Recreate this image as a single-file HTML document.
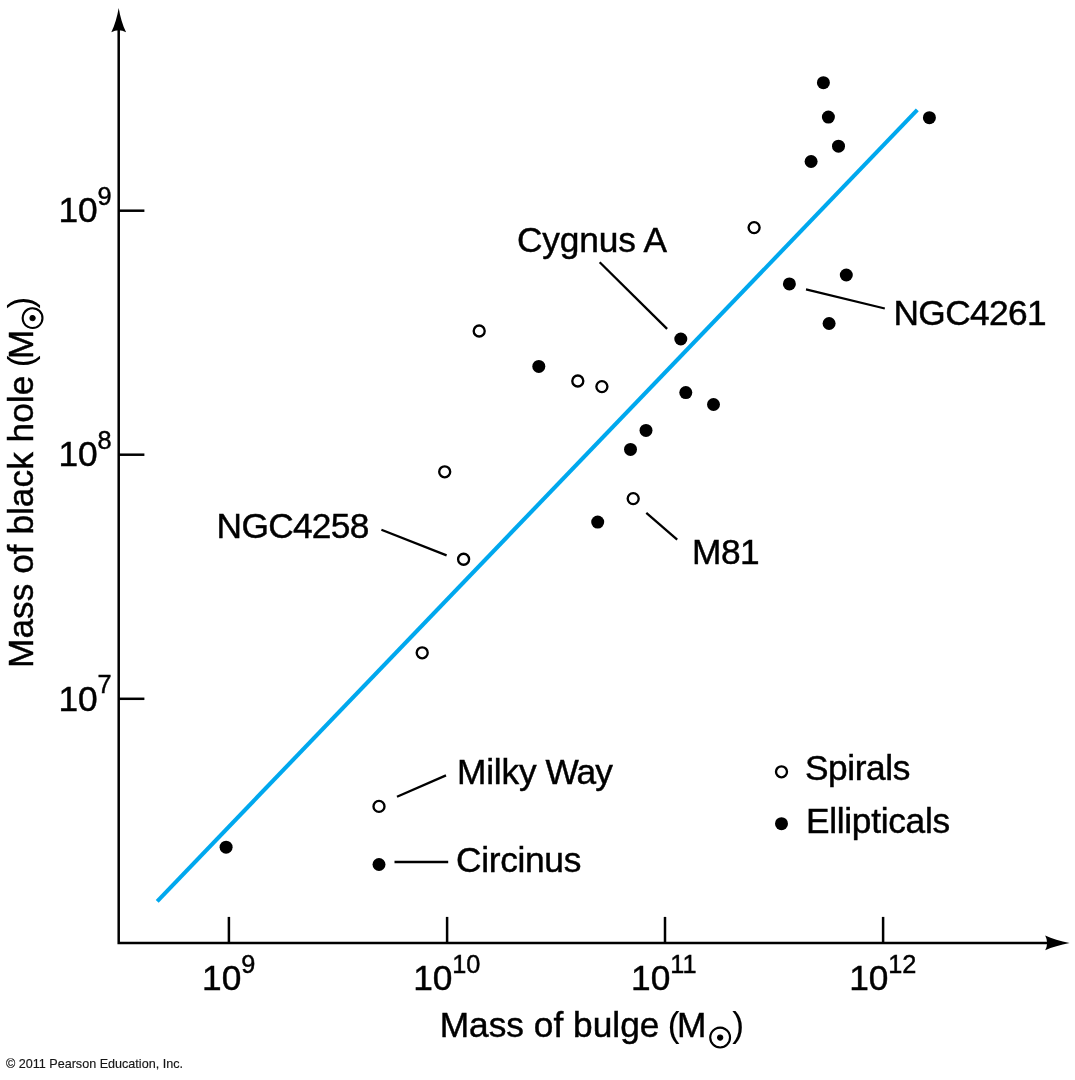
<!DOCTYPE html>
<html lang="en"><head><meta charset="utf-8"><title>Black hole mass vs bulge mass</title>
<style>
html,body{margin:0;padding:0;background:#fff;}
body{width:1075px;height:1080px;overflow:hidden;position:relative;}
svg{position:absolute;left:0;top:0;display:block;}
text{font-family:"Liberation Sans",sans-serif;fill:#000;stroke:#000;stroke-width:0.45px;}
.t{font-size:35.3px;}
.s{font-size:25.3px;}
.sun{font-family:"DejaVu Sans","Liberation Sans",sans-serif;font-size:28.5px;stroke-width:1.1px;letter-spacing:0;}
.p{stroke-width:0.1px;}
.c{font-size:12.6px;fill:#151515;stroke:#151515;stroke-width:0.15px;}
</style></head><body>
<svg width="1075" height="1080" viewBox="0 0 1075 1080">
<rect width="1075" height="1080" fill="#fff"/>
<g stroke="#000" stroke-width="2.5" fill="none" stroke-linecap="butt">
<path d="M118.7 30 V942.9 H1048"/>
<line x1="228.9" y1="916.9" x2="228.9" y2="943"/>
<line x1="447.1" y1="916.9" x2="447.1" y2="943"/>
<line x1="665.0" y1="916.9" x2="665.0" y2="943"/>
<line x1="883.1" y1="916.9" x2="883.1" y2="943"/>
<line x1="118.7" y1="210.7" x2="144.4" y2="210.7"/>
<line x1="118.7" y1="454.7" x2="144.4" y2="454.7"/>
<line x1="118.7" y1="698.8" x2="144.4" y2="698.8"/>
</g>
<path d="M118.7 8 C120.2 17 122.6 25 126.1 32.2 Q118.7 28.4 111.3 32.2 C114.8 25 117.2 17 118.7 8 Z" fill="#000"/>
<path d="M1069.6 942.9 C1060.2 944.7 1051.9 947 1045.2 950.3 Q1049 942.9 1045.2 935.5 C1051.9 938.8 1060.2 941.1 1069.6 942.9 Z" fill="#000"/>
<line x1="157.2" y1="901.3" x2="917.3" y2="109.9" stroke="#00a8ee" stroke-width="4.1"/>
<g stroke="#000" stroke-width="2.3">
<line x1="599.7" y1="262.3" x2="667.1" y2="328.9"/>
<line x1="806.0" y1="289.3" x2="884.8" y2="308.5"/>
<line x1="646.3" y1="512.9" x2="677.2" y2="539.7"/>
<line x1="381.4" y1="529.7" x2="446.6" y2="555.4"/>
<line x1="397.0" y1="796.8" x2="446.0" y2="775.4"/>
<line x1="394.5" y1="862.0" x2="448.2" y2="862.0"/>
</g>
<g fill="#000">
<circle cx="823.4" cy="82.7" r="6.5"/>
<circle cx="828.4" cy="117.1" r="6.5"/>
<circle cx="929.4" cy="117.7" r="6.5"/>
<circle cx="838.5" cy="146.2" r="6.5"/>
<circle cx="811.1" cy="161.5" r="6.5"/>
<circle cx="846.3" cy="275.0" r="6.5"/>
<circle cx="789.4" cy="283.9" r="6.5"/>
<circle cx="829.1" cy="323.5" r="6.5"/>
<circle cx="680.8" cy="339.0" r="6.5"/>
<circle cx="538.8" cy="366.4" r="6.5"/>
<circle cx="685.8" cy="392.6" r="6.5"/>
<circle cx="713.5" cy="404.5" r="6.5"/>
<circle cx="646.0" cy="430.4" r="6.5"/>
<circle cx="630.5" cy="449.4" r="6.5"/>
<circle cx="597.7" cy="522.1" r="6.5"/>
<circle cx="226.1" cy="847.2" r="6.5"/>
<circle cx="379.0" cy="864.5" r="6.5"/>
<circle cx="781.5" cy="823.7" r="6.5"/>
</g>
<g fill="#fff" stroke="#000" stroke-width="2.35">
<circle cx="754.1" cy="227.6" r="5.5"/>
<circle cx="479.2" cy="331.0" r="5.5"/>
<circle cx="577.8" cy="381.0" r="5.5"/>
<circle cx="601.9" cy="386.6" r="5.5"/>
<circle cx="444.7" cy="471.8" r="5.5"/>
<circle cx="633.2" cy="498.6" r="5.5"/>
<circle cx="463.6" cy="559.2" r="5.5"/>
<circle cx="422.2" cy="652.8" r="5.5"/>
<circle cx="379.0" cy="806.4" r="5.5"/>
<circle cx="781.5" cy="771.8" r="5.5"/>
</g>
<text class="t" x="517.0" y="251.9" style="letter-spacing:-0.15px">Cygnus A</text>
<text class="t" x="893.4" y="325" style="letter-spacing:-0.6px">NGC4261</text>
<text class="t" x="216.6" y="538" style="letter-spacing:-0.7px">NGC4258</text>
<text class="t" x="692.0" y="564.2" style="letter-spacing:-0.5px">M81</text>
<text class="t" x="456.0" y="871.7" style="letter-spacing:-0.31px">Circinus</text>
<text class="t" x="804.9" y="779.7" style="letter-spacing:-0.39px">Spirals</text>
<text class="t" x="805.9" y="833.3" style="letter-spacing:-0.29px">Ellipticals</text>
<text class="t" x="457.0" y="783.8" style="letter-spacing:-0.2px">Milky <tspan x="545.6" style="letter-spacing:-1px">Way</tspan></text>
<text class="t" x="58.4" y="222.4">10<tspan class="s" x="97.4" dy="-17.2">9</tspan></text>
<text class="t" x="58.4" y="466.4">10<tspan class="s" x="97.4" dy="-17.2">8</tspan></text>
<text class="t" x="58.4" y="710.5">10<tspan class="s" x="97.4" dy="-17.2">7</tspan></text>
<text class="t" x="202.1" y="989.8">10<tspan class="s" x="241.2" dy="-17.3">9</tspan></text>
<text class="t" x="413.2" y="989.8">10<tspan class="s" x="452.3" dy="-17.3">10</tspan></text>
<text class="t" x="631.1" y="989.8">10<tspan class="s" x="670.2" dy="-17.3">11</tspan></text>
<text class="t" x="849.2" y="989.8">10<tspan class="s" x="888.3" dy="-17.3">12</tspan></text>
<text class="t" x="439.7" y="1037">Mass of bulge <tspan class="p" dx="-1.4">(</tspan><tspan dx="-2.7">M</tspan><tspan class="sun" text-anchor="middle" x="720.2" y="1047.9">☉</tspan><tspan class="p" x="732.3" y="1037">)</tspan></text>
<text class="t" transform="translate(33.1 668.0) rotate(-90)" x="0" y="0">Mass of black hole <tspan class="p" dx="-1.3">(</tspan><tspan dx="-3.9">M</tspan><tspan class="sun" text-anchor="middle" x="350.1" y="9.7">☉</tspan><tspan class="p" x="359.5" y="0">)</tspan></text>
<text class="c" x="5.9" y="1067.9">© 2011 Pearson Education, Inc.</text>
</svg>
</body></html>
